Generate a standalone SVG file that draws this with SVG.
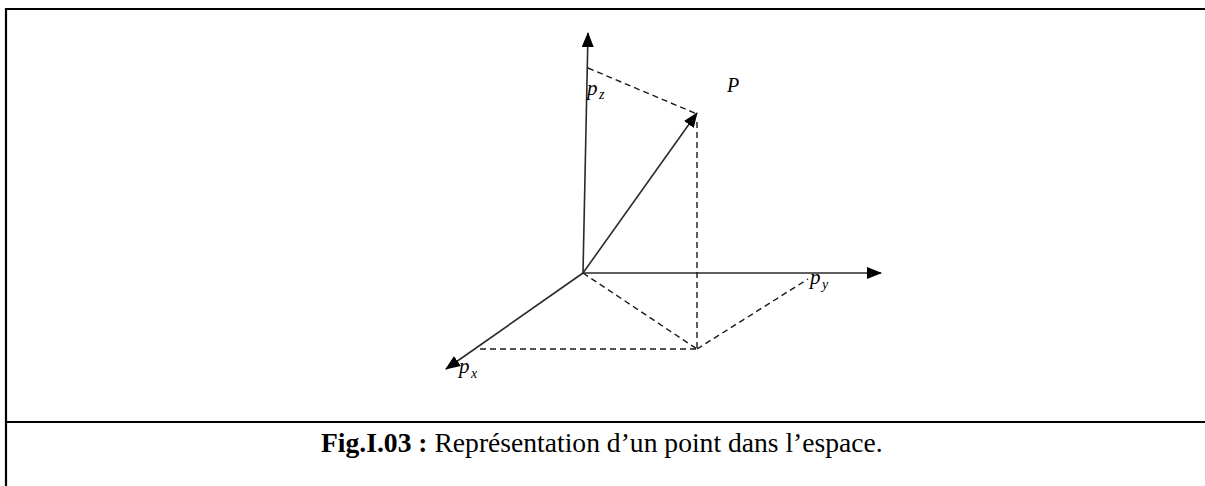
<svg xmlns="http://www.w3.org/2000/svg" width="1205" height="486" viewBox="0 0 1205 486">
<style>
.frame{stroke:#000;stroke-width:2.2;fill:none}
.axis{stroke:#2a2a2a;stroke-width:1.6;fill:none}
.dash{stroke:#1a1a1a;stroke-width:1.4;fill:none;stroke-dasharray:6,4}
.lbl{font-family:"Liberation Serif",serif;font-style:italic;fill:#000}
.cap{font-family:"Liberation Serif",serif;font-size:27.6px;fill:#000}
</style>
<defs>
<marker id="ah" markerUnits="userSpaceOnUse" markerWidth="15" markerHeight="12" viewBox="0 0 15 12" refX="14" refY="6" orient="auto">
<path d="M0,0 L15,6 L0,12 Z" fill="#000"/>
</marker>
</defs>
<rect width="1205" height="486" fill="#fff"/>
<g id="frame">
<line class="frame" x1="6" y1="9" x2="1205" y2="9"/>
<line class="frame" x1="6" y1="8" x2="6" y2="486"/>
<line class="frame" x1="6" y1="422" x2="1205" y2="422"/>
</g>
<g id="connectors">
<line class="axis" x1="583" y1="273" x2="588" y2="33" marker-end="url(#ah)"/>
<line class="axis" x1="583" y1="273" x2="881" y2="273" marker-end="url(#ah)"/>
<line class="axis" x1="583" y1="273" x2="446" y2="369" marker-end="url(#ah)"/>
<line class="axis" x1="583" y1="273" x2="697" y2="113" marker-end="url(#ah)"/>
<line class="dash" x1="588" y1="68" x2="697" y2="114"/>
<line class="dash" x1="697" y1="122" x2="697" y2="349"/>
<line class="dash" x1="583" y1="273" x2="697" y2="349"/>
<line class="dash" x1="697" y1="349" x2="808" y2="279"/>
<line class="dash" x1="480" y1="349" x2="697" y2="349"/>
</g>
<g id="label-pz">
<text class="lbl" x="587" y="95" font-size="21">p</text>
<text class="lbl" x="599" y="99" font-size="14">z</text>
</g>
<g id="label-P">
<text class="lbl" x="727" y="92" font-size="20">P</text>
</g>
<g id="label-py">
<text class="lbl" x="810" y="284" font-size="21">p</text>
<text class="lbl" x="822" y="289" font-size="14">y</text>
</g>
<g id="label-px">
<text class="lbl" x="459" y="373" font-size="21">p</text>
<text class="lbl" x="471" y="378" font-size="14">x</text>
</g>
<g id="caption">
<text class="cap" x="321" y="452"><tspan font-weight="bold">Fig.I.03 :</tspan> Représentation d’un point dans l’espace.</text>
</g>
</svg>
